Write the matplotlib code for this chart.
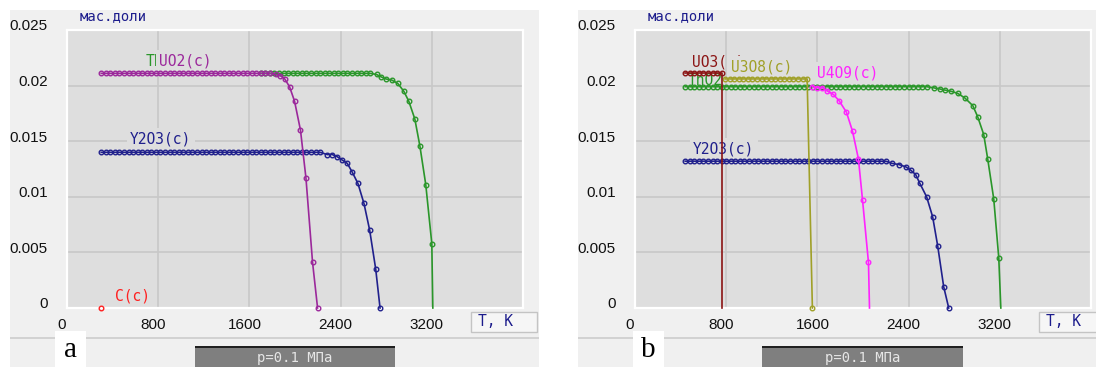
import matplotlib
matplotlib.use("Agg")
import matplotlib.pyplot as plt
from matplotlib.patches import Rectangle
from matplotlib.transforms import ScaledTranslation, Bbox, TransformedBbox

# ---- data (T in K, mass fraction) ----
# panel a
uo2_a_t = [300, 340, 380, 420, 460, 500, 540, 580, 620, 660, 700, 740, 780, 820, 860,
           900, 940, 980, 1020, 1060, 1100, 1140, 1180, 1220, 1260, 1300, 1340, 1380,
           1420, 1460, 1500, 1540, 1580, 1620, 1660, 1700, 1740, 1780,
           1830, 1870, 1910, 1952, 1996, 2048, 2096, 2154, 2198]
uo2_a_v = [0.0211] * 38 + [0.0210, 0.0209, 0.0206, 0.0199, 0.0186, 0.0160, 0.0117, 0.0041, 0.0]

tho2_a_t = [1700, 1740, 1780, 1820, 1860, 1900, 1940, 1980, 2020, 2060, 2100, 2140, 2180,
            2220, 2260, 2300, 2340, 2380, 2420, 2460, 2500, 2540, 2580, 2620, 2660,
            2716, 2752, 2796, 2848, 2901, 2954, 2998, 3051, 3095, 3147, 3200, 3209]
tho2_a_v = [0.0211] * 25 + [0.0210, 0.0208, 0.0206, 0.0205, 0.0202, 0.0195, 0.0186, 0.0170,
                            0.0146, 0.0111, 0.0058, 0.0]

y2o3_a_t = [300, 340, 380, 420, 460, 500, 540, 580, 620, 660, 700, 740, 780, 820, 860,
            900, 940, 980, 1020, 1060, 1100, 1140, 1180, 1220, 1260, 1300, 1340, 1380,
            1420, 1460, 1500, 1540, 1580, 1620, 1660, 1700, 1740, 1780, 1820, 1860, 1900,
            1940, 1980, 2020, 2060, 2100, 2140, 2180, 2220,
            2283, 2327, 2371, 2415, 2459, 2503, 2552, 2605, 2655, 2708, 2746]
y2o3_a_v = [0.0140] * 49 + [0.0138, 0.0138, 0.0136, 0.0133, 0.0130, 0.0122, 0.0112, 0.0094,
                            0.0070, 0.0035, 0.0]

c_a_t = [300]
c_a_v = [0.0]

# panel b
uo3_b_t = [440, 480, 520, 560, 600, 640, 680, 720, 760, 760]
uo3_b_v = [0.0211] * 9 + [0.0]

tho2_b_t = [440, 480, 520, 560, 600, 640, 680, 720, 760, 800, 840, 880, 920, 960, 1000,
            1040, 1080, 1120, 1160, 1200, 1240, 1280, 1320, 1360, 1400, 1440, 1480, 1520,
            1560, 1600, 1640, 1680, 1720, 1760, 1800, 1840, 1880, 1920, 1960, 2000, 2040,
            2080, 2120, 2160, 2200, 2240, 2280, 2320, 2360, 2400, 2440, 2480, 2520, 2560,
            2620, 2672, 2716, 2769, 2831, 2892, 2963, 3006, 3059, 3094, 3147, 3191, 3209]
tho2_b_v = [0.0199] * 54 + [0.0198, 0.0197, 0.0196, 0.0195, 0.0193, 0.0189, 0.0182, 0.0172,
                            0.0156, 0.0134, 0.0098, 0.0045, 0.0]

u3o8_b_t = [790, 830, 870, 910, 950, 990, 1030, 1070, 1110, 1150, 1190, 1230, 1270, 1310,
            1350, 1390, 1430, 1470, 1510, 1556]
u3o8_b_v = [0.0206] * 19 + [0.0]

u4o9_b_t = [1556, 1600, 1644, 1688, 1741, 1793, 1855, 1908, 1960, 1996, 2048, 2057]
u4o9_b_v = [0.0199, 0.0198, 0.0198, 0.0195, 0.0192, 0.0186, 0.0176, 0.0159, 0.0134,
            0.0097, 0.0041, 0.0]

y2o3_b_t = [440, 480, 520, 560, 600, 640, 680, 720, 760, 800, 840, 880, 920, 960, 1000,
            1040, 1080, 1120, 1160, 1200, 1240, 1280, 1320, 1360, 1400, 1440, 1480, 1520,
            1560, 1600, 1640, 1680, 1720, 1760, 1800, 1840, 1880, 1920, 1960, 2000, 2040,
            2080, 2120, 2160, 2200,
            2257, 2315, 2374, 2418, 2462, 2499, 2558, 2611, 2655, 2708, 2752]
y2o3_b_v = [0.0132] * 45 + [0.0130, 0.0129, 0.0127, 0.0124, 0.0120, 0.0112, 0.0100, 0.0082,
                            0.0056, 0.0019, 0.0]

x_ticks = [0, 800, 1600, 2400, 3200]
y_ticks = [0, 0.005, 0.01, 0.015, 0.02, 0.025]
y_tick_labels = ["0", "0.005", "0.01", "0.015", "0.02", "0.025"]

C_UO2 = "#9b289b"
C_THO2 = "#2a962a"
C_Y2O3 = "#20208c"
C_C = "#ff2020"
C_UO3 = "#8b1414"
C_U3O8 = "#a0a028"
C_U4O9 = "#ff22ff"
NAVY = "#1c1c8c"
MONO = "DejaVu Sans Mono"

W, H = 1096, 367
fig = plt.figure(figsize=(W / 100, H / 100), dpi=100)
fig.patch.set_facecolor("white")


def rect(x0, y0, x1, y1, **kw):
    r = Rectangle((x0 / W, 1 - y1 / H), (x1 - x0) / W, (y1 - y0) / H,
                  transform=fig.transFigure, **kw)
    fig.patches.append(r)


def ftext(x, y, s, **kw):
    fig.text(x / W, 1 - y / H, s, **kw)


def curve(ax, t, v, color, end_marker=True):
    n = len(t) if end_marker else len(t) - 1
    ax.plot(t, v, color=color, lw=1.2, marker="o", ms=3.3, mfc="none", mec=color,
            mew=1.0, markevery=list(range(n)), zorder=3, clip_on=False)


def label(ax, x, y, s, color, box=True, z=2.5):
    kw = dict(color=color, fontsize=10.5, family=MONO, va="center", ha="left", zorder=z)
    if box:
        kw["bbox"] = dict(facecolor="#dedede", edgecolor="none", pad=2.5)
    return ax.text(x, y, s, **kw)


def panel(x0, x1, ax_left, tk_x0, tk_x1, p_x0, p_x1, letter_x0, letter):
    # outer light panel
    rect(x0, 10, x1, 367, facecolor="#f0f0f0", edgecolor="none", zorder=0)
    rect(x0, 337, x1, 339, facecolor="#d2d2d2", edgecolor="none", zorder=1)
    # pressure box
    rect(p_x0, 347, p_x1, 367, facecolor="#7f7f7f", edgecolor="none", zorder=1)
    rect(p_x0, 346, p_x1, 348, facecolor="#202020", edgecolor="none", zorder=2)
    ftext((p_x0 + p_x1) / 2, 358, "p=0.1 МПа", color="#e6e6e6", fontsize=10,
          family=MONO, ha="center", va="center")
    # letter box
    rect(letter_x0, 331, letter_x0 + 31, 367, facecolor="white", edgecolor="none", zorder=1)
    ftext(letter_x0 + 15.5, 350, letter, fontsize=21, family="Liberation Serif",
          ha="center", va="center", color="black")
    # T, K box
    rect(tk_x0, 312, tk_x1, 332, facecolor="#f6f6f6", edgecolor="#c4c4c4", lw=1, zorder=1)
    ftext(tk_x0 + 7, 322, "T, K", color=NAVY, fontsize=10.5, family=MONO, va="center")
    # y axis title
    ftext(ax_left + 13, 16, "мас.доли", color=NAVY, fontsize=10, family=MONO, va="center")

    ax = fig.add_axes([ax_left / W, 1 - 308 / H, 456 / W, 278 / H])
    ax.set_zorder(5)
    ax.set_facecolor("#dedede")
    ax.set_xlim(0, 4000)
    ax.set_ylim(0, 0.025)
    for s in ax.spines.values():
        s.set_color("white")
        s.set_linewidth(1.6)
    ax.set_xticks(x_ticks)
    ax.set_yticks(y_ticks)
    ax.set_yticklabels(y_tick_labels)
    ax.grid(True, color="#c8c8c8", lw=1.2)
    ax.set_axisbelow(True)
    ax.tick_params(length=0, labelsize=11, colors="#111111")
    ax.tick_params(axis="y", pad=14)
    ax.tick_params(axis="x", pad=7)
    for lab in ax.get_yticklabels():
        lab.set_family("Liberation Sans")
        lab.set_transform(lab.get_transform() + ScaledTranslation(0, 0.05, fig.dpi_scale_trans))
    for lab in ax.get_xticklabels():
        lab.set_family("Liberation Sans")
        lab.set_transform(lab.get_transform() + ScaledTranslation(-0.05, 0, fig.dpi_scale_trans))
    return ax


ax_a = panel(10, 539, 67, 471, 537, 195, 395, 55, "a")
ax_b = panel(578, 1100, 635, 1039, 1100, 762, 963, 633, "b")

# panel a curves
curve(ax_a, tho2_a_t, tho2_a_v, C_THO2, end_marker=False)
curve(ax_a, y2o3_a_t, y2o3_a_v, C_Y2O3)
curve(ax_a, uo2_a_t, uo2_a_v, C_UO2)
ax_a.plot(c_a_t, c_a_v, ls="none", marker="o", ms=3.3, mfc="none", mec=C_C, mew=1.0,
          clip_on=False, zorder=3)
label(ax_a, 686, 0.02225, "ThO2(c)", C_THO2, box=False, z=2.2)
label(ax_a, 809, 0.02225, "UO2(c)", C_UO2)
label(ax_a, 554, 0.01523, "Y2O3(c)", C_Y2O3)
label(ax_a, 422, 0.00108, "C(c)", C_C, box=False)

# panel b curves
tl = label(ax_b, 466, 0.02054, "ThO2(c)", C_THO2, box=False, z=1.5)
tl.set_clip_box(TransformedBbox(Bbox([[0, 0], [755, 0.025]]), ax_b.transData))
tl.set_clip_on(True)
curve(ax_b, tho2_b_t, tho2_b_v, C_THO2, end_marker=False)
curve(ax_b, y2o3_b_t, y2o3_b_v, C_Y2O3)
curve(ax_b, u4o9_b_t, u4o9_b_v, C_U4O9, end_marker=False)
curve(ax_b, u3o8_b_t, u3o8_b_v, C_U3O8)
curve(ax_b, uo3_b_t, uo3_b_v, C_UO3, end_marker=False)
label(ax_b, 501, 0.02216, "UO3(c)", C_UO3, box=False, z=2.2)
label(ax_b, 844, 0.02171, "U3O8(c)", C_U3O8)
label(ax_b, 1600, 0.02117, "U4O9(c)", C_U4O9)
label(ax_b, 510, 0.01432, "Y2O3(c)", C_Y2O3)

fig.savefig("out.png", dpi=100)
